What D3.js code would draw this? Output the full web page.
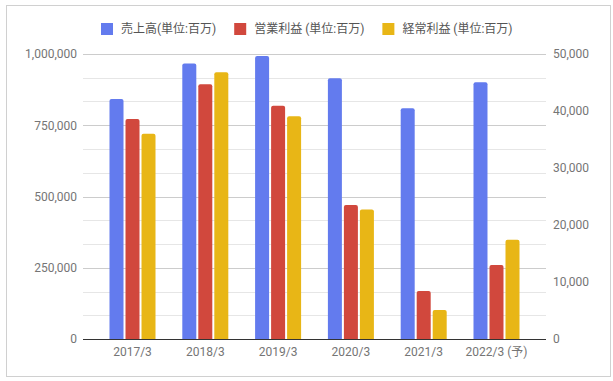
<!DOCTYPE html>
<html>
<head>
<meta charset="utf-8">
<script src="https://cdn.jsdelivr.net/npm/d3@7"></script>
<style>
  body { margin: 0; background: #fff; }
  .chart { width: 613px; height: 381px; }
  text { font-family: Roboto, "Noto Sans CJK JP", sans-serif; }
</style>
</head>
<body>
<div class="chart"></div>
<script>
// data (売上高 on left axis, 利益 on right axis)
const years = ['2017/3', '2018/3', '2019/3', '2020/3', '2021/3', '2022/3 (予)']
const sales = [842000, 967000, 993000, 915000, 810000, 901000]
const opProfit = [38600, 44700, 40900, 23500, 8400, 13000]
const ordProfit = [36000, 46800, 39100, 22700, 5100, 17400]
const seriesNames = ['売上高(単位:百万)', '営業利益 (単位:百万)', '経常利益 (単位:百万)']
const leftTicks = [0, 250000, 500000, 750000, 1000000]
const rightTicks = [0, 10000, 20000, 30000, 40000, 50000]

const colors = ['#637bee', '#d1483d', '#e8b616']

const $graphWrapper = d3.select('.chart')
$graphWrapper.selectAll('*').remove()

const width = 613
const height = 381
const margin = { top: 54, right: 67, bottom: 42, left: 83 }
const innerWidth = width - margin.left - margin.right
const innerHeight = height - margin.top - margin.bottom

const root = $graphWrapper.append('svg')
  .attr('width', width)
  .attr('height', height)

// outer frame
root.append('rect')
  .attr('x', 6.5).attr('y', 5.5)
  .attr('width', 604).attr('height', 371)
  .attr('fill', 'none')
  .attr('stroke', '#d0d0d0')

const svg = root.append('g')
  .attr('transform', `translate(${margin.left},${margin.top})`)

// scales
const x = d3.scaleBand()
  .domain(years)
  .range([0, innerWidth])
  .paddingInner(0.368)
  .paddingOuter(0.364)

const xInner = d3.scaleBand()
  .domain([0, 1, 2])
  .range([0, x.bandwidth()])
  .paddingInner(0.125)

const yLeft = d3.scaleLinear().domain([0, 1000000]).range([innerHeight, 0])
const yRight = d3.scaleLinear().domain([0, 50000]).range([innerHeight, 0])

// gridlines: every 1/12 of the left axis, darker on labelled values
const gridVals = d3.range(0, 13).map(i => i * 1000000 / 12)
svg.append('g')
  .selectAll('line')
  .data(gridVals)
  .join('line')
  .attr('x1', 0)
  .attr('x2', innerWidth)
  .attr('y1', d => Math.round(yLeft(d)) + 0.5)
  .attr('y2', d => Math.round(yLeft(d)) + 0.5)
  .attr('stroke', (d, i) => i % 3 === 0 ? '#cccccc' : '#e6e6e6')

// left axis
svg.append('g')
  .attr('class', 'axis axis--left')
  .call(d3.axisLeft(yLeft).tickValues(leftTicks).tickSize(0).tickPadding(6)
    .tickFormat(d3.format(',')))

// right axis
svg.append('g')
  .attr('class', 'axis axis--right')
  .attr('transform', `translate(${innerWidth},0)`)
  .call(d3.axisRight(yRight).tickValues(rightTicks).tickSize(0).tickPadding(7)
    .tickFormat(d3.format(',')))

// x axis
svg.append('g')
  .attr('class', 'axis axis--x')
  .attr('transform', `translate(0,${innerHeight})`)
  .call(d3.axisBottom(x).tickSize(0).tickPadding(8))

d3.selectAll('.axis').select('.domain').remove()
d3.selectAll('.axis text')
  .attr('fill', '#757575')
  .style('font-size', '12px')

// bars
const rows = years.map((yr, i) => ({
  year: yr,
  vals: [
    { s: 0, y: yLeft(sales[i]) },
    { s: 1, y: yRight(opProfit[i]) },
    { s: 2, y: yRight(ordProfit[i]) }
  ]
}))

const barPath = (x0, y0, w, h, r) => {
  return `M${x0},${y0 + h}V${y0 + r}Q${x0},${y0} ${x0 + r},${y0}` +
    `H${x0 + w - r}Q${x0 + w},${y0} ${x0 + w},${y0 + r}V${y0 + h}Z`
}

svg.selectAll('.gBin')
  .data(rows)
  .join('g')
  .attr('class', 'gBin')
  .attr('transform', d => `translate(${x(d.year)},0)`)
  .selectAll('path')
  .data(d => d.vals)
  .join('path')
  .attr('fill', d => colors[d.s])
  .attr('d', d => barPath(xInner(d.s), d.y, xInner.bandwidth(), innerHeight - d.y, 2))

// baseline
svg.append('line')
  .attr('x1', 0).attr('x2', innerWidth)
  .attr('y1', innerHeight + 0.5).attr('y2', innerHeight + 0.5)
  .attr('stroke', '#333')

// legend
const legend = root.append('g')
let lx = 0
seriesNames.forEach((name, i) => {
  const item = legend.append('g').attr('transform', `translate(${lx},0)`)
  item.append('rect')
    .attr('x', 0).attr('y', -6)
    .attr('width', 12).attr('height', 12)
    .attr('fill', colors[i])
  const t = item.append('text')
    .attr('x', 20).attr('dy', '0.35em')
    .attr('fill', '#555')
    .style('font-size', '12px')
    .text(name)
  lx += 20 + t.node().getComputedTextLength() + 18
})
const legendW = lx - 18
legend.attr('transform', `translate(${Math.round((width - legendW) / 2)},29)`)
</script>
</body>
</html>
